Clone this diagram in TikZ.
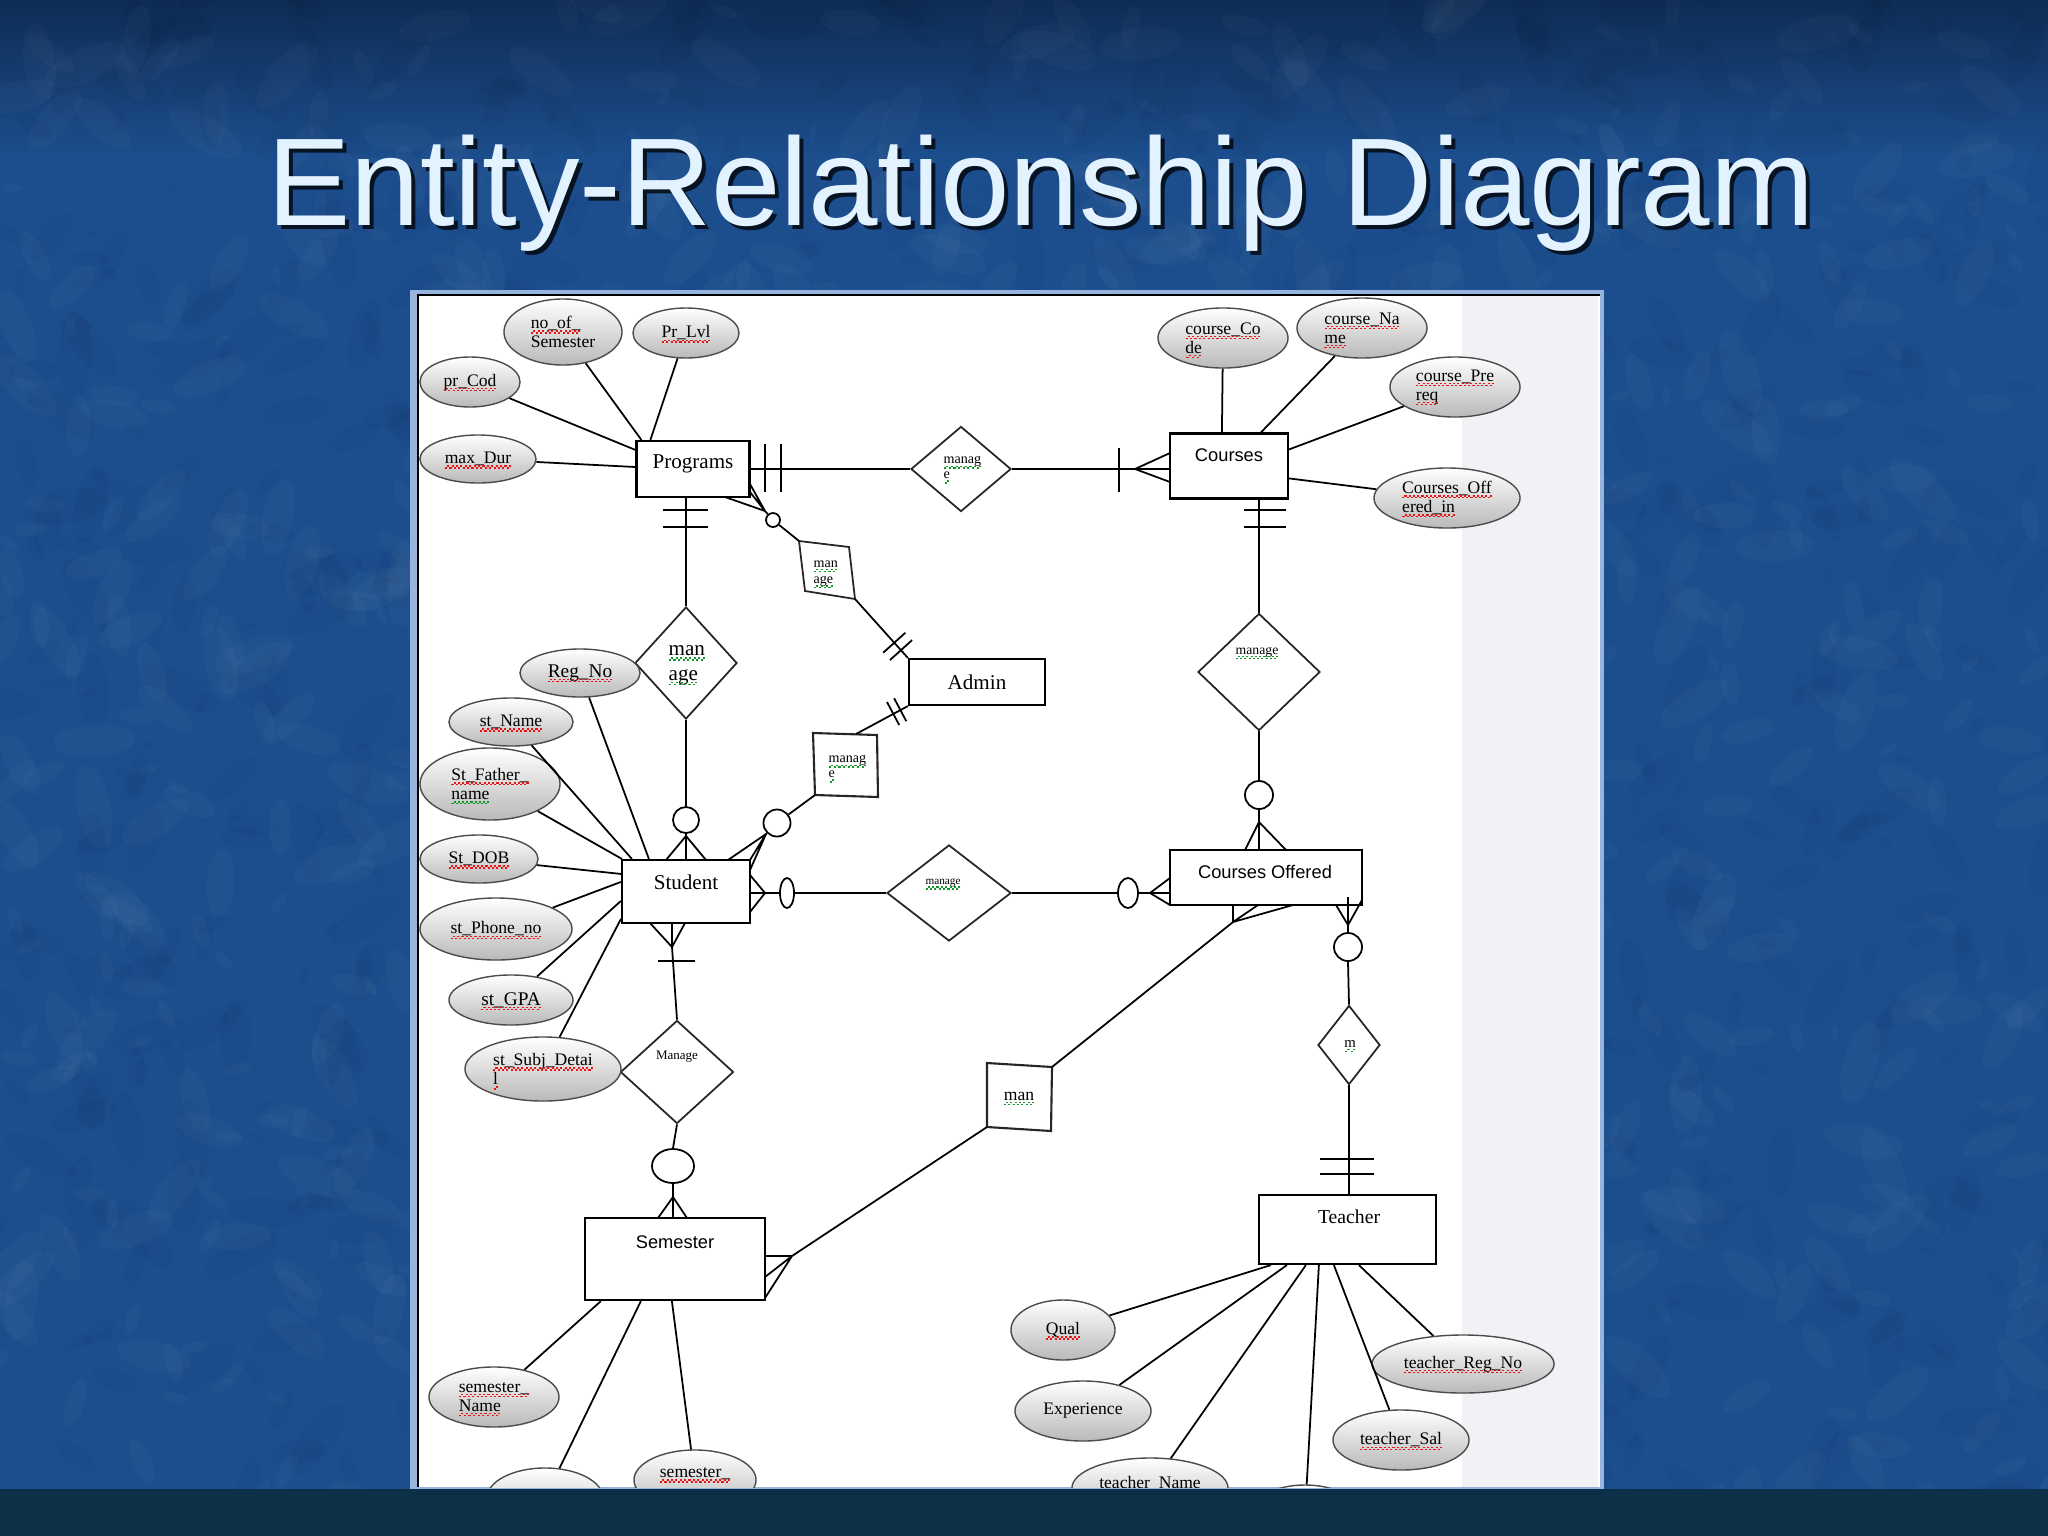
\documentclass[tikz,border=0pt]{standalone}
\usepackage{fontspec}
\setmainfont{Liberation Serif}
\setsansfont{Liberation Sans}
\usetikzlibrary{shapes.geometric,calc}
\definecolor{bgblue}{RGB}{28,78,142}
\definecolor{bgdark}{RGB}{14,44,84}
\definecolor{bgbot}{RGB}{12,48,72}
\definecolor{titlec}{RGB}{226,242,255}
\definecolor{panelgrey}{RGB}{242,242,246}
\definecolor{frameblue}{RGB}{150,180,220}
\definecolor{sqred}{RGB}{235,20,20}
\definecolor{sqgreen}{RGB}{20,150,40}
\newcommand\wv[2]{\setbox0\hbox{#2}\rlap{\copy0}\raisebox{-1.4pt}[0pt][0pt]{\textcolor{#1}{\hbox to \wd0{\xleaders\hbox{\rule[0pt]{0.6pt}{0.4pt}\rule[0.55pt]{0.6pt}{0.4pt}}\hfill}}}}
\newcommand\rw[1]{\wv{sqred}{#1}}
\newcommand\gw[1]{\wv{sqgreen}{#1}}
\tikzset{
 entity/.style={draw=black, line width=0.6pt, fill=white, inner sep=0pt},
 etxt/.style={font=\fontsize{6}{7}\selectfont, inner sep=0pt},
 esans/.style={font=\sffamily\fontsize{5.2}{6}\selectfont, inner sep=0pt},
 attr/.style={ellipse, draw=gray!60!black, line width=0.4pt, top color=white, bottom color=gray!55, inner sep=0pt, font=\fontsize{5}{5.4}\selectfont, align=left},
 rel/.style={diamond, draw=black!85, line width=0.5pt, fill=white, inner sep=0pt},
 rtxt/.style={inner sep=0pt, align=left},
 conn/.style={draw=black, line width=0.5pt},
 ring/.style={circle, draw=black, line width=0.5pt, fill=white, inner sep=0pt},
 oval/.style={ellipse, draw=black, line width=0.5pt, fill=white, inner sep=0pt},
}
\begin{document}
\begin{tikzpicture}[x=0.01cm,y=-0.01cm]
\useasboundingbox (0,0) rectangle (2048,1536);
% background
\fill[bgblue] (0,0) rectangle (2048,1536);
\shade[top color=bgdark, bottom color=bgblue] (0,0) rectangle (2048,160);
\pgfmathsetseed{42}
\foreach \i in {1,...,900}{
  \pgfmathsetmacro\xx{rnd*2048}
  \pgfmathsetmacro\yy{rnd*1536}
  \pgfmathsetmacro\rr{8+rnd*35}
  \pgfmathsetmacro\ang{rnd*180}
  \fill[white, opacity=0.022, rotate around={\ang:(\xx,\yy)}] (\xx,\yy) ellipse [x radius=\rr, y radius=0.4*\rr];
}
\foreach \i in {1,...,900}{
  \pgfmathsetmacro\xx{rnd*2048}
  \pgfmathsetmacro\yy{rnd*1536}
  \pgfmathsetmacro\rr{8+rnd*35}
  \pgfmathsetmacro\ang{rnd*180}
  \fill[black, opacity=0.028, rotate around={\ang:(\xx,\yy)}] (\xx,\yy) ellipse [x radius=\rr, y radius=0.4*\rr];
}
\fill[bgbot] (0,1489) rectangle (2048,1536);
% title
\node[anchor=base, inner sep=0pt, font=\sffamily\fontsize{35.5}{40}\selectfont, text=black, opacity=0.75] (titleshadow) at (1045,229) {Entity-Relationship Diagram};
\node[anchor=base, inner sep=0pt, font=\sffamily\fontsize{35.5}{40}\selectfont, text=titlec] (title) at (1041,225) {Entity-Relationship Diagram};
% panel
\fill[frameblue] (410,290) rectangle (1604,1489);
\fill[white] (418,295) rectangle (1600,1487);
\fill[panelgrey] (1462,296) rectangle (1598,1487);
\draw[black, line width=0.8pt] (418,1487) -- (418,295) -- (1600,295);

% ---------- entities
\node[entity, minimum width=11.3mm, minimum height=5.6mm] (prog) at (693,469) {};
\node[etxt] (progt) at (693,464) {Programs};
\node[entity, minimum width=11.8mm, minimum height=6.5mm] (crs) at (1229,466) {};
\node[esans] (crst) at (1229,455) {Courses};
\node[entity, minimum width=13.6mm, minimum height=4.6mm] (admin) at (977,682) {};
\node[etxt] (admint) at (977,682) {Admin};
\node[entity, minimum width=12.8mm, minimum height=6.3mm] (stud) at (686,891.5) {};
\node[etxt] (studt) at (686,882) {Student};
\node[entity, minimum width=19.2mm, minimum height=5.5mm] (coff) at (1266,877.5) {};
\node[esans] (cofft) at (1265,872) {Courses Offered};
\node[entity, minimum width=18mm, minimum height=8.2mm] (sem) at (675,1259) {};
\node[esans] (semt) at (675,1242) {Semester};
\node[entity, minimum width=17.7mm, minimum height=6.9mm] (teach) at (1347.5,1229.5) {};
\node[etxt, font=\fontsize{5.6}{6}\selectfont] (teacht) at (1349,1217) {Teacher};

% ---------- relationships
\node[rel, minimum width=10mm, minimum height=8.5mm] (r1) at (961,469) {};
\node[rtxt, anchor=north west, font=\fontsize{4}{4.2}\selectfont] (r1t) at (943,456) {\gw{manag}\\\gw{e}};
\node[rel, minimum width=10.2mm, minimum height=11.2mm] (r2) at (686,663) {};
\node[rtxt, anchor=north west, font=\fontsize{6}{7}\selectfont] (r2t) at (668,645) {\gw{man}\\\gw{age}};
\node[rel, minimum width=12.2mm, minimum height=11.7mm] (r3) at (1259,672) {};
\node[rtxt, font=\fontsize{3.9}{4}\selectfont] (r3t) at (1257,652) {\gw{manage}};
\node[rel, minimum width=12.4mm, minimum height=9.6mm] (r4) at (949,893) {};
\node[rtxt, font=\fontsize{3.2}{4}\selectfont] (r4t) at (943,883) {\gw{manage}};
\node[rel, minimum width=11.3mm, minimum height=10.3mm] (r5) at (677,1072) {};
\node[rtxt, font=\fontsize{3.7}{4}\selectfont] (r5t) at (677,1057) {Manage};
\node[rel, minimum width=6.2mm, minimum height=7.9mm] (r6) at (1349,1045) {};
\node[rtxt, font=\fontsize{4.2}{4.5}\selectfont] (r6t) at (1350,1044) {\gw{m}};

% skewed boxes
\coordinate (b1tl) at (799,541); \coordinate (b1tr) at (849,547);
\coordinate (b1br) at (855,599); \coordinate (b1bl) at (805,591);
\draw[fill=white, draw=black!85, line width=0.5pt] (b1tl) -- (b1tr) -- (b1br) -- (b1bl) -- cycle;
\node[rtxt, anchor=north west, font=\fontsize{4}{4.6}\selectfont] (b1) at (813,560) {\gw{man}\\\gw{age}};
\coordinate (b2tl) at (813,733); \coordinate (b2tr) at (877,735);
\coordinate (b2br) at (878,797); \coordinate (b2bl) at (815,795);
\coordinate (b2top) at (856,734);
\draw[fill=white, draw=black!85, line width=0.6pt] (b2tl) -- (b2tr) -- (b2br) -- (b2bl) -- cycle;
\node[rtxt, anchor=north west, font=\fontsize{4}{4.2}\selectfont] (b2) at (828,755) {\gw{manag}\\\gw{e}};
\coordinate (b3tl) at (987,1063); \coordinate (b3tr) at (1052,1067);
\coordinate (b3br) at (1051,1131); \coordinate (b3bl) at (987,1127);
\draw[fill=white, draw=black!85, line width=0.6pt] (b3tl) -- (b3tr) -- (b3br) -- (b3bl) -- cycle;
\node[rtxt, font=\fontsize{5}{6}\selectfont] (b3) at (1019,1096) {\gw{man}};

% ---------- optionality circles
\node[ring, minimum size=1.4mm] (o1) at (773,520) {};
\node[ring, minimum size=2.6mm] (o2) at (686,820) {};
\node[ring, minimum size=2.7mm] (o3) at (777,823) {};
\node[ring, minimum size=2.8mm] (o4) at (1259,795) {};
\node[oval, minimum width=1.4mm, minimum height=3mm] (o5) at (787,893) {};
\node[oval, minimum width=2mm, minimum height=3mm] (o6) at (1128,893) {};
\node[ring, minimum size=2.8mm] (o7) at (1348,947) {};
\node[oval, minimum width=4.2mm, minimum height=3.4mm] (o8) at (673,1166) {};

% ---------- relationship connectors
% Programs - r1 - Courses
\draw[conn] (prog.east) -- (r1.west);
\draw[conn] (765,444) -- (765,492) (781,444) -- (781,492);
\draw[conn] (r1.east) -- (r1.east -| crs.west);
\draw[conn] (1119,448) -- (1119,492);
\coordinate (cf0) at (1135,469);
\draw[conn] (cf0) -- (1170,453) (cf0) -- (1170,482);
% Programs - r2 - Student
\draw[conn] (prog.south -| r2.north) -- (r2.north);
\draw[conn] (663,510) -- (708,510) (663,527) -- (708,527);
\draw[conn] (r2.south) -- (o2.north);
\coordinate (cf2) at (686,836);
\draw[conn] (o2.south) -- (o2.south |- stud.north);
\draw[conn] (cf2) -- (666,860) (cf2) -- (706,860);
% Courses - r3 - Courses Offered
\draw[conn] (crs.south -| r3.north) -- (r3.north);
\draw[conn] (1244,510) -- (1286,510) (1244,527) -- (1286,527);
\draw[conn] (r3.south) -- (o4.north);
\draw[conn] (o4.south) -- (o4.south |- coff.north);
\coordinate (cf4) at (1259,822);
\draw[conn] (cf4) -- (1245,850) (cf4) -- (1286,850);
% Student - r4 - Courses Offered
\draw[conn] (stud.east |- o5.west) -- (o5.west);
\coordinate (cf5a) at (765,893);
\draw[conn] (cf5a) -- (750,875) (cf5a) -- (750,912);
\draw[conn] (o5.east) -- (r4.west);
\draw[conn] (r4.east) -- (o6.west);
\draw[conn] (o6.east) -- (o6.east -| coff.west);
\coordinate (cf5b) at (1150,893);
\draw[conn] (cf5b) -- (1170,878) (cf5b) -- (1170,905);
% Student - b2 - Admin
\coordinate (cf3) at (766,834);
\draw[conn] (cf3) -- (728,860) (cf3) -- (750,860) (cf3) -- (750,870) (cf3) -- (o3);
\draw[conn] (o3) -- (b2bl);
\draw[conn] (b2top) -- (admin.south west);
\draw[conn] (894.1,698.2) -- (906.3,721.2) (887,702) -- (899.2,725);
% Programs - b1 - Admin
\coordinate (cf1) at (765,511);
\draw[conn] (cf1) -- (725,497) (cf1) -- (750,484) (cf1) -- (750,492) (cf1) -- (o1);
\draw[conn] (o1) -- (b1tl);
\draw[conn] (b1br) -- (admin.north west);
\draw[conn] (889.9,660.1) -- (912.1,640.1) (883.2,652.7) -- (905.4,632.7);
% Courses Offered - b3 - Semester
\coordinate (cf6) at (1233,922);
\draw[conn] (cf6) -- (1233,905) (cf6) -- (1258,905) (cf6) -- (1293,905);
\draw[conn] (cf6) -- (b3tr);
\coordinate (cf7) at (792,1256);
\draw[conn] (b3bl) -- (cf7);
\draw[conn] (cf7) -- (765,1256) (cf7) -- (765,1277) (cf7) -- (765,1298);
% Courses Offered - r6 - Teacher
\coordinate (cf8) at (1348,925);
\draw[conn] (cf8) -- (1336,905) (cf8) -- (1348,897) (cf8) -- (1362,900);
\draw[conn] (cf8) -- (o7.north);
\draw[conn] (o7.south) -- (r6.north);
\draw[conn] (r6.south) -- (r6.south |- teach.north);
\draw[conn] (1320,1159) -- (1374,1159) (1320,1174) -- (1374,1174);
% Student - r5 - Semester
\coordinate (cf9) at (672,947);
\draw[conn] (cf9) -- (650,923) (cf9) -- (672,923) (cf9) -- (685,923);
\draw[conn] (cf9) -- (r5.north);
\draw[conn] (658,961) -- (695,961);
\draw[conn] (r5.south) -- (o8.north);
\coordinate (cf10) at (673,1197);
\draw[conn] (o8.south) -- (cf10);
\draw[conn] (cf10) -- (658,1218) (cf10) -- (673,1218) (cf10) -- (687,1218);

% ---------- attributes
\begin{scope}
\clip (418,295) rectangle (1600,1487);
% Programs
\node[attr, minimum width=11.8mm, minimum height=6.6mm] (anos) at (563,332) {\rw{no\_of\_}\\Semester};
\node[attr, minimum width=10.6mm, minimum height=5mm] (aprl) at (686,333) {\rw{Pr\_Lvl}};
\node[attr, minimum width=10mm, minimum height=5mm] (aprc) at (470,382) {\rw{pr\_Cod}};
\node[attr, minimum width=11.6mm, minimum height=4.8mm] (amxd) at (478,459) {\rw{max\_Dur}};
\draw[conn] (anos) -- ($(prog.north west)+(6,0)$);
\draw[conn] (aprl) -- ($(prog.north west)+(15,0)$);
\draw[conn] (aprc) -- ($(prog.north west)+(0,10)$);
\draw[conn] (amxd) -- ($(prog.west)+(0,-2)$);
% Courses
\node[attr, minimum width=13mm, minimum height=6mm] (acc) at (1223,338) {\rw{course\_Co}\\\rw{de}};
\node[attr, minimum width=13mm, minimum height=6mm] (acn) at (1362,328) {\rw{course\_Na}\\\rw{me}};
\node[attr, minimum width=13mm, minimum height=6mm] (acp) at (1455,387) {\rw{course\_Pre}\\\rw{req}};
\node[attr, minimum width=14.6mm, minimum height=6mm] (acoi) at (1447,498) {\rw{Courses\_Off}\\\rw{ered\_in}};
\draw[conn] (acc) -- ($(crs.north west)+(53,0)$);
\draw[conn] (acn) -- ($(crs.north west)+(92,0)$);
\draw[conn] (acp) -- ($(crs.north east)+(0,17)$);
\draw[conn] (acoi) -- ($(crs.north east)+(0,46)$);
% Student
\node[attr, minimum width=12mm, minimum height=4.8mm, font=\fontsize{5.5}{6}\selectfont] (areg) at (580,673) {\rw{Reg\_No}};
\node[attr, minimum width=12.4mm, minimum height=4.8mm] (asn) at (511,722) {\rw{st\_Name}};
\node[attr, minimum width=14mm, minimum height=7.2mm] (asf) at (490,784) {\rw{St\_Father\_}\\\gw{name}};
\node[attr, minimum width=11.8mm, minimum height=4.8mm] (asd) at (479,859) {\rw{St\_DOB}};
\node[attr, minimum width=15.2mm, minimum height=6.2mm] (asp) at (496,929) {\rw{st\_Phone\_no}};
\node[attr, minimum width=12.4mm, minimum height=5mm, font=\fontsize{5.5}{6}\selectfont] (asg) at (511,1000) {\rw{st\_GPA}};
\node[attr, minimum width=15.6mm, minimum height=6.4mm] (ass) at (543,1069) {\rw{st\_Subj\_Detai}\\\rw{l}};
\draw[conn] (areg) -- ($(stud.north west)+(28,0)$);
\draw[conn] (asn) -- ($(stud.north west)+(11,0)$);
\draw[conn] (asf) -- ($(stud.north west)+(1,0)$);
\draw[conn] (asd) -- ($(stud.north west)+(0,15)$);
\draw[conn] (asp) -- ($(stud.north west)+(0,23)$);
\draw[conn] (asg) -- ($(stud.north west)+(0,42)$);
\draw[conn] (ass) -- ($(stud.north west)+(0,60)$);
% Semester
\node[attr, minimum width=13mm, minimum height=6mm] (asmn) at (494,1397) {\rw{semester\_}\\\rw{Name}};
\node[attr, minimum width=11.6mm, minimum height=6mm] (asm2) at (545,1498) {};
\node[attr, minimum width=12.2mm, minimum height=6mm] (asm3) at (695,1480) {};
\node[inner sep=0pt, font=\fontsize{5}{5.4}\selectfont] (asm3t) at (695,1474) {\rw{semester\_}};
\draw[conn] (asmn) -- ($(sem.south west)+(17,0)$);
\draw[conn] (asm2) -- ($(sem.south west)+(57,0)$);
\draw[conn] (asm3) -- ($(sem.south west)+(88,0)$);
% Teacher
\node[attr, minimum width=10.4mm, minimum height=6mm] (aq) at (1063,1330) {\rw{Qual}};
\node[attr, minimum width=13.6mm, minimum height=6mm] (aex) at (1083,1411) {Experience};
\node[attr, minimum width=15.6mm, minimum height=6mm] (atn) at (1150,1488) {};
\node[inner sep=0pt, font=\fontsize{5}{5.4}\selectfont] (atnt) at (1150,1484) {teacher\_Name};
\node[attr, minimum width=11mm, minimum height=6mm] (at4) at (1305,1515) {};
\node[attr, minimum width=13.6mm, minimum height=6mm] (ats) at (1401,1440) {\rw{teacher\_Sal}};
\node[attr, minimum width=18.2mm, minimum height=5.8mm] (atr) at (1463,1364) {\rw{teacher\_Reg\_No}};
\draw[conn] (aq) -- ($(teach.south west)+(13,0)$);
\draw[conn] (aex) -- ($(teach.south west)+(29,0)$);
\draw[conn] (atn) -- ($(teach.south west)+(48,0)$);
\draw[conn] (at4) -- ($(teach.south west)+(61,0)$);
\draw[conn] (ats) -- ($(teach.south west)+(76,0)$);
\draw[conn] (atr) -- ($(teach.south west)+(101,0)$);
\end{scope}
\end{tikzpicture}
\end{document}
